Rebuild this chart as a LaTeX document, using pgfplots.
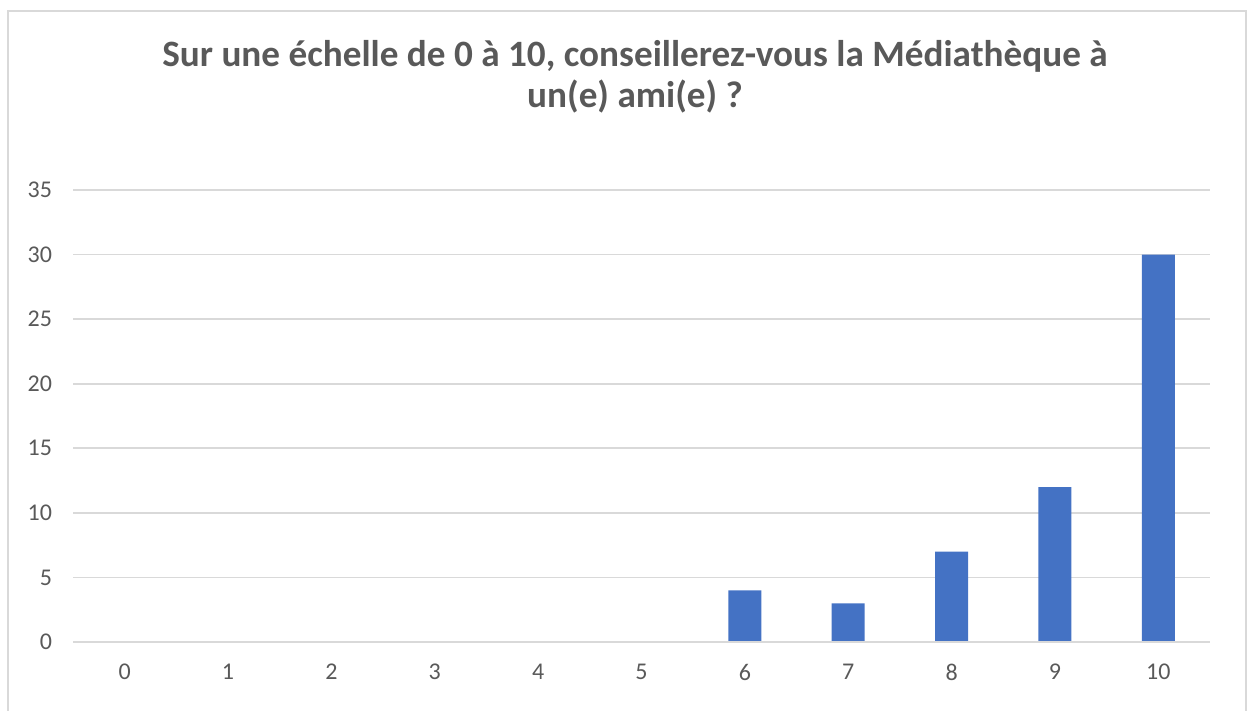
\documentclass[border=0pt]{standalone}
\usepackage{pgfplots}
\pgfplotsset{compat=1.18}
\usepackage{fontspec}
\setmainfont{Carlito}
\definecolor{barblue}{HTML}{4472C4}
\definecolor{gridgray}{HTML}{D9D9D9}
\definecolor{txtgray}{HTML}{595959}
\begin{document}
\begin{tikzpicture}
\useasboundingbox (0pt,0pt) rectangle (626.5pt,-355.5pt);
\draw[gridgray,line width=1.2pt] (4pt,-5.5pt) rectangle (623pt,-380pt);
\begin{axis}[
  at={(36.5pt,-321pt)}, anchor=south west,
  scale only axis,
  width=568.5pt, height=226pt,
  xmin=-0.5, xmax=10.5, ymin=0, ymax=35,
  ybar, bar width=16.5pt,
  xtick={0,...,10}, ytick={0,5,...,35},
  axis line style={draw=none},
  ymajorgrids, grid style={gridgray,line width=0.9pt},
  major tick length=0pt,
  tick label style={font=\fontsize{12}{14}\selectfont, text=txtgray},
  /pgf/number format/assume math mode=true,
  yticklabel style={xshift=-7pt},
  xticklabel style={yshift=-7.5pt},
  clip=false,
]
\addplot[fill=barblue, draw=none] coordinates {
(0,0) (1,0) (2,0) (3,0) (4,0) (5,0) (6,4) (7,3) (8,7) (9,12) (10,30)};
\draw[gridgray,line width=0.9pt] (axis cs:-0.5,0) -- (axis cs:10.5,0);
\end{axis}
\node[align=center, text=txtgray, font=\fontsize{18.6}{20.4}\selectfont\bfseries] at (317.5pt,-38.5pt)
{Sur une échelle de 0 à 10, conseillerez-vous la Médiathèque à\\un(e) ami(e) ?};
\end{tikzpicture}
\end{document}
